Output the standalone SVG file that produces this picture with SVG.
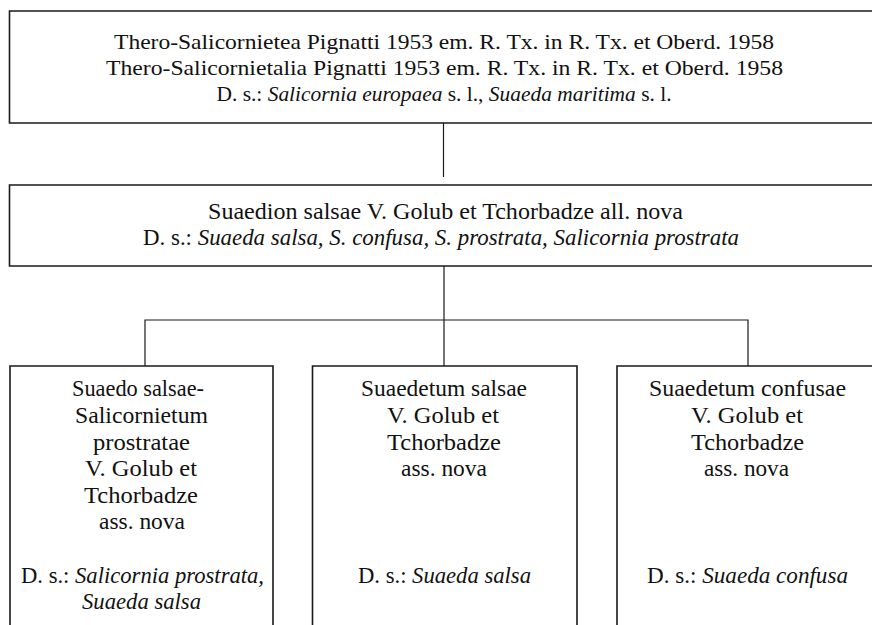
<svg xmlns="http://www.w3.org/2000/svg" width="873" height="625" viewBox="0 0 873 625">
<style>
.box{fill:#fff;stroke:#1a1a1a;stroke-width:1.6}
.con{stroke:#1a1a1a;stroke-width:1.2;fill:none}
text{font-family:"Liberation Serif","DejaVu Serif",serif;font-size:23px;fill:#111;text-anchor:middle}
.t{font-size:21.5px}
.i{font-style:italic}
</style>
<rect width="873" height="625" fill="#fff"/>
<g id="connectors">
<line class="con" x1="443.5" y1="123" x2="443.5" y2="177"/>
<line class="con" x1="444" y1="266" x2="444" y2="366"/>
<polyline class="con" points="145,366 145,320 748,320 748,366"/>
</g>
<g id="class">
<path class="box" d="M872,11 H9.5 V123 H872"/>
<text class="t" x="444" y="48.5" textLength="660" lengthAdjust="spacingAndGlyphs">Thero-Salicornietea Pignatti 1953 em. R. Tx. in R. Tx. et Oberd. 1958</text>
<text class="t" x="444.5" y="74.5" textLength="677" lengthAdjust="spacingAndGlyphs">Thero-Salicornietalia Pignatti 1953 em. R. Tx. in R. Tx. et Oberd. 1958</text>
<text class="t" x="444" y="100.5" textLength="455" lengthAdjust="spacingAndGlyphs">D. s.: <tspan class="i">Salicornia europaea</tspan> s. l., <tspan class="i">Suaeda maritima</tspan> s. l.</text>
</g>
<g id="alliance">
<path class="box" d="M872,185 H9.5 V266 H872"/>
<text x="445.5" y="219" textLength="475" lengthAdjust="spacingAndGlyphs">Suaedion salsae V. Golub et Tchorbadze all. nova</text>
<text x="441" y="245" textLength="596" lengthAdjust="spacingAndGlyphs">D. s.: <tspan class="i">Suaeda salsa, S. confusa, S. prostrata, Salicornia prostrata</tspan></text>
</g>
<g id="ass1">
<path class="box" d="M10,630 V366 H273 V630"/>
<text x="138" y="396" textLength="132" lengthAdjust="spacingAndGlyphs">Suaedo salsae-</text>
<text x="141.5" y="423" textLength="133" lengthAdjust="spacingAndGlyphs">Salicornietum</text>
<text x="141.5" y="449.5" textLength="97" lengthAdjust="spacingAndGlyphs">prostratae</text>
<text x="141" y="476" textLength="112" lengthAdjust="spacingAndGlyphs">V. Golub et</text>
<text x="141" y="502.5" textLength="114" lengthAdjust="spacingAndGlyphs">Tchorbadze</text>
<text x="142" y="529" textLength="86" lengthAdjust="spacingAndGlyphs">ass. nova</text>
<text x="142.5" y="582.5" textLength="243" lengthAdjust="spacingAndGlyphs">D. s.: <tspan class="i">Salicornia prostrata,</tspan></text>
<text x="141.5" y="609" class="i" textLength="119" lengthAdjust="spacingAndGlyphs">Suaeda salsa</text>
</g>
<g id="ass2">
<path class="box" d="M312.5,630 V366 H577 V630"/>
<text x="444" y="396" textLength="166" lengthAdjust="spacingAndGlyphs">Suaedetum salsae</text>
<text x="443" y="423" textLength="112" lengthAdjust="spacingAndGlyphs">V. Golub et</text>
<text x="444" y="449.5" textLength="114" lengthAdjust="spacingAndGlyphs">Tchorbadze</text>
<text x="444" y="476" textLength="86" lengthAdjust="spacingAndGlyphs">ass. nova</text>
<text x="444.5" y="582.5" textLength="173" lengthAdjust="spacingAndGlyphs">D. s.: <tspan class="i">Suaeda salsa</tspan></text>
</g>
<g id="ass3">
<path class="box" d="M617,630 V366 H872"/>
<text x="747.5" y="396" textLength="197" lengthAdjust="spacingAndGlyphs">Suaedetum confusae</text>
<text x="747" y="423" textLength="112" lengthAdjust="spacingAndGlyphs">V. Golub et</text>
<text x="747.5" y="449.5" textLength="113" lengthAdjust="spacingAndGlyphs">Tchorbadze</text>
<text x="746.5" y="476" textLength="85" lengthAdjust="spacingAndGlyphs">ass. nova</text>
<text x="747.5" y="582.5" textLength="201" lengthAdjust="spacingAndGlyphs">D. s.: <tspan class="i">Suaeda confusa</tspan></text>
</g>
</svg>
